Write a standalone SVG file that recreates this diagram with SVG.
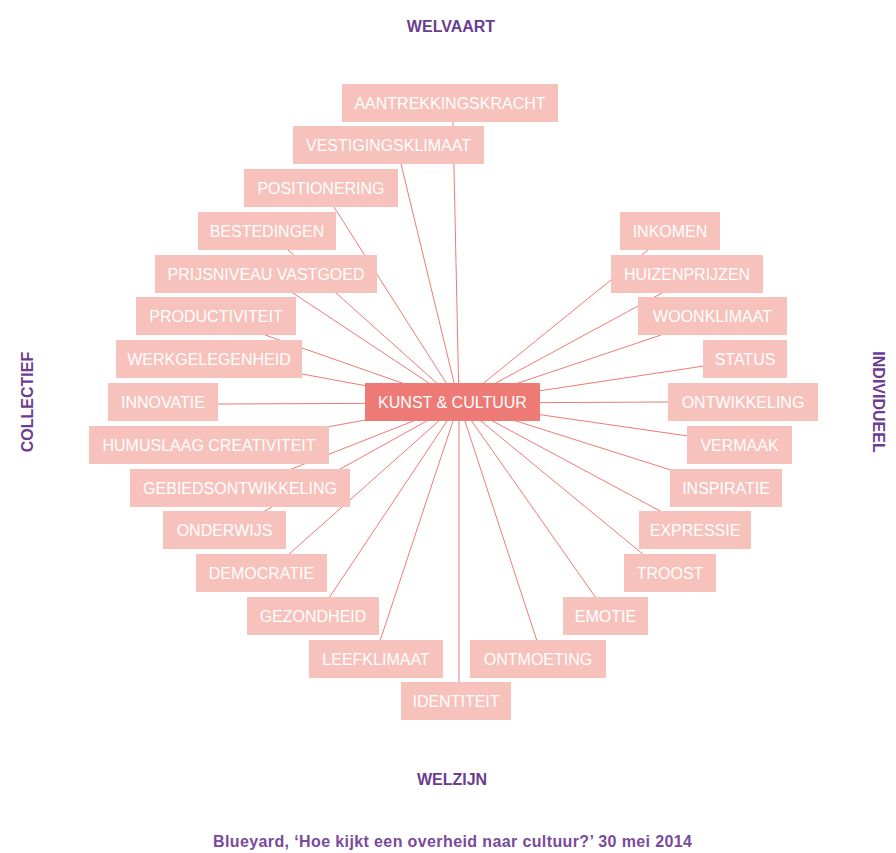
<svg xmlns="http://www.w3.org/2000/svg" width="896" height="853" viewBox="0 0 896 853">
<style>
.bx{fill:#f7c2bb}
.hub{fill:#ee7a76}
.t{font-family:"Liberation Sans",Arial,sans-serif;font-size:16px;fill:#ffffff;text-anchor:middle}
.ax{font-family:"Liberation Sans",Arial,sans-serif;font-size:16px;font-weight:bold;fill:#6b3d91;text-anchor:middle}
.ft{font-family:"Liberation Sans",Arial,sans-serif;font-size:16px;font-weight:bold;fill:#7a4a9c}
#connectors line{stroke:#ee7a76;stroke-width:1}
</style>
<rect width="896" height="853" fill="#ffffff"/>
<g id="connectors">
<line x1="459" y1="403" x2="453" y2="122"/>
<line x1="459" y1="403" x2="401" y2="164"/>
<line x1="459" y1="403" x2="334" y2="207"/>
<line x1="459" y1="403" x2="288" y2="250"/>
<line x1="459" y1="403" x2="293" y2="293"/>
<line x1="459" y1="403" x2="265" y2="335"/>
<line x1="459" y1="403" x2="302" y2="374"/>
<line x1="459" y1="403" x2="218" y2="404"/>
<line x1="459" y1="403" x2="327" y2="427"/>
<line x1="459" y1="403" x2="289" y2="470"/>
<line x1="459" y1="403" x2="263" y2="512"/>
<line x1="459" y1="403" x2="288" y2="555"/>
<line x1="459" y1="403" x2="329" y2="598"/>
<line x1="459" y1="403" x2="380" y2="641"/>
<line x1="459" y1="403" x2="459" y2="683"/>
<line x1="459" y1="403" x2="648" y2="250"/>
<line x1="459" y1="403" x2="662" y2="293"/>
<line x1="459" y1="403" x2="661" y2="335"/>
<line x1="459" y1="403" x2="704" y2="366"/>
<line x1="459" y1="403" x2="669" y2="402"/>
<line x1="459" y1="403" x2="688" y2="436"/>
<line x1="459" y1="403" x2="671" y2="470"/>
<line x1="459" y1="403" x2="662" y2="512"/>
<line x1="459" y1="403" x2="644" y2="555"/>
<line x1="459" y1="403" x2="596" y2="598"/>
<line x1="459" y1="403" x2="537" y2="641"/>
</g>
<g id="n-aantrekkingskracht"><rect class="bx" x="342" y="84" width="216" height="38"/><text class="t" x="450" y="109">AANTREKKINGSKRACHT</text></g>
<g id="n-vestigingsklimaat"><rect class="bx" x="293" y="126" width="191" height="38"/><text class="t" x="388.5" y="151">VESTIGINGSKLIMAAT</text></g>
<g id="n-positionering"><rect class="bx" x="244" y="169" width="154" height="38"/><text class="t" x="321" y="194">POSITIONERING</text></g>
<g id="n-bestedingen"><rect class="bx" x="198" y="212" width="138" height="38"/><text class="t" x="267" y="237">BESTEDINGEN</text></g>
<g id="n-prijsniveau"><rect class="bx" x="155" y="255" width="222" height="38"/><text class="t" x="266" y="280">PRIJSNIVEAU VASTGOED</text></g>
<g id="n-productiviteit"><rect class="bx" x="136" y="297" width="160" height="38"/><text class="t" x="216" y="322">PRODUCTIVITEIT</text></g>
<g id="n-werkgelegenheid"><rect class="bx" x="116" y="340" width="186" height="38"/><text class="t" x="209" y="365">WERKGELEGENHEID</text></g>
<g id="n-innovatie"><rect class="bx" x="108" y="383" width="110" height="38"/><text class="t" x="163" y="408">INNOVATIE</text></g>
<g id="n-humuslaag"><rect class="bx" x="89" y="426" width="240" height="38"/><text class="t" x="209" y="451">HUMUSLAAG CREATIVITEIT</text></g>
<g id="n-gebiedsontwikkeling"><rect class="bx" x="130" y="469" width="220" height="38"/><text class="t" x="240" y="494">GEBIEDSONTWIKKELING</text></g>
<g id="n-onderwijs"><rect class="bx" x="163" y="511" width="123" height="38"/><text class="t" x="224.5" y="536">ONDERWIJS</text></g>
<g id="n-democratie"><rect class="bx" x="196" y="554" width="131" height="38"/><text class="t" x="261.5" y="579">DEMOCRATIE</text></g>
<g id="n-gezondheid"><rect class="bx" x="247" y="597" width="132" height="38"/><text class="t" x="313" y="622">GEZONDHEID</text></g>
<g id="n-leefklimaat"><rect class="bx" x="309" y="640" width="134" height="38"/><text class="t" x="376" y="665">LEEFKLIMAAT</text></g>
<g id="n-identiteit"><rect class="bx" x="401" y="682" width="110" height="38"/><text class="t" x="456" y="707">IDENTITEIT</text></g>
<g id="n-inkomen"><rect class="bx" x="620" y="212" width="100" height="38"/><text class="t" x="670" y="237">INKOMEN</text></g>
<g id="n-huizenprijzen"><rect class="bx" x="611" y="255" width="152" height="38"/><text class="t" x="687" y="280">HUIZENPRIJZEN</text></g>
<g id="n-woonklimaat"><rect class="bx" x="638" y="297" width="149" height="38"/><text class="t" x="712.5" y="322">WOONKLIMAAT</text></g>
<g id="n-status"><rect class="bx" x="703" y="340" width="84" height="38"/><text class="t" x="745" y="365">STATUS</text></g>
<g id="n-ontwikkeling"><rect class="bx" x="668" y="383" width="150" height="38"/><text class="t" x="743" y="408">ONTWIKKELING</text></g>
<g id="n-vermaak"><rect class="bx" x="687" y="426" width="105" height="38"/><text class="t" x="739.5" y="451">VERMAAK</text></g>
<g id="n-inspiratie"><rect class="bx" x="670" y="469" width="112" height="38"/><text class="t" x="726" y="494">INSPIRATIE</text></g>
<g id="n-expressie"><rect class="bx" x="639" y="511" width="112" height="38"/><text class="t" x="695" y="536">EXPRESSIE</text></g>
<g id="n-troost"><rect class="bx" x="624" y="554" width="92" height="38"/><text class="t" x="670" y="579">TROOST</text></g>
<g id="n-emotie"><rect class="bx" x="563" y="597" width="85" height="38"/><text class="t" x="605.5" y="622">EMOTIE</text></g>
<g id="n-ontmoeting"><rect class="bx" x="470" y="640" width="136" height="38"/><text class="t" x="538" y="665">ONTMOETING</text></g>
<g id="n-kunst"><rect class="hub" x="365" y="383" width="175" height="38"/><text class="t" x="452.5" y="408">KUNST &amp; CULTUUR</text></g>
<g id="axes">
<text class="ax" x="451" y="32">WELVAART</text>
<text class="ax" x="452" y="785">WELZIJN</text>
<text class="ax" transform="translate(32.5 402) rotate(-90)">COLLECTIEF</text>
<text class="ax" transform="translate(872.5 402) rotate(90)">INDIVIDUEEL</text>
</g>
<text class="ft" x="213" y="847" textLength="479" lengthAdjust="spacing">Blueyard, ‘Hoe kijkt een overheid naar cultuur?’ 30 mei 2014</text>
</svg>
